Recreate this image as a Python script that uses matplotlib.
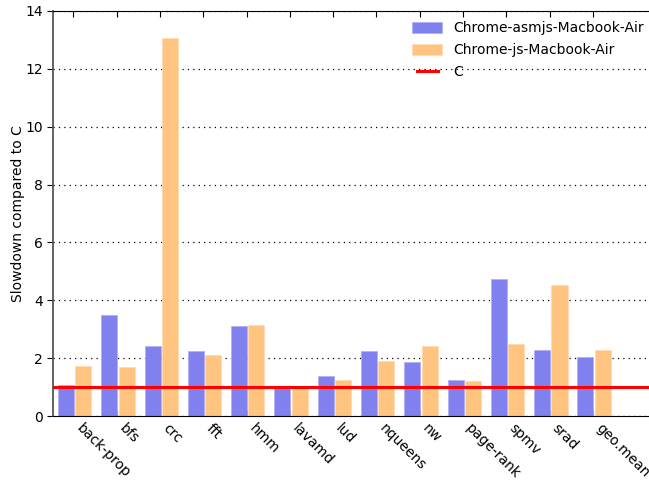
import numpy as np
import matplotlib
matplotlib.use("Agg")
import matplotlib.pyplot as plt
from matplotlib.legend_handler import HandlerLine2D

benchmarks = ["back-prop", "bfs", "crc", "fft", "hmm", "lavamd", "lud",
              "nqueens", "nw", "page-rank", "spmv", "srad", "geo.mean"]
asmjs_air = [1.07, 3.50, 2.42, 2.26, 3.11, 0.98, 1.38,
             2.25, 1.87, 1.26, 4.72, 2.28, 2.03]
js_air = [1.72, 1.69, 13.07, 2.11, 3.13, 1.00, 1.24,
          1.91, 2.43, 1.22, 2.48, 4.52, 2.27]
baseline = 1.0

fig = plt.figure(figsize=(6.49, 4.82), dpi=100)
ax = fig.add_axes([53 / 649, 66 / 482, 600 / 649, 405 / 482])

ind = np.arange(len(benchmarks))
w = 0.37
b1 = ax.bar(ind - 0.17, asmjs_air, w, color="#8080ee", edgecolor="#b0b0f4",
            linewidth=0.6, label="Chrome-asmjs-Macbook-Air", zorder=2)
b2 = ax.bar(ind + 0.23, js_air, w, color="#ffc580", edgecolor="#ffd9b0",
            linewidth=0.6, label="Chrome-js-Macbook-Air", zorder=2)
ref = ax.axhline(baseline, color="red", linewidth=2.2, label="C", zorder=3)

ax.set_xlim(-0.47, 13.39)
ax.set_ylim(0, 14)
ax.set_yticks(np.arange(0, 15, 2))
ax.set_xticks(ind)
ax.set_xticklabels(benchmarks, rotation=-45, ha="left", va="top", fontsize=10)
ax.tick_params(axis="x", direction="in", top=True, bottom=True, length=4, pad=4)
ax.tick_params(axis="y", direction="out", left=True, right=False, length=4,
               labelsize=10)
ax.yaxis.grid(True, linestyle=(0, (1, 3.3)), color="black", linewidth=0.9)
ax.set_axisbelow(True)
ax.spines["right"].set_visible(False)
ax.spines["left"].set_color("#555555")
ax.spines["left"].set_linewidth(1.3)
ax.set_ylabel("Slowdown compared to C", fontsize=10, labelpad=0)

ax.legend([b1, b2, ref],
          ["Chrome-asmjs-Macbook-Air", "Chrome-js-Macbook-Air", "C"],
          loc="upper right", bbox_to_anchor=(1.006, 1.005), frameon=False,
          fontsize=10, handlelength=2.2, handleheight=0.85, labelspacing=0.56,
          handler_map={ref: HandlerLine2D(numpoints=2, marker_pad=0.35)})

fig.savefig("out.png", dpi=100)
